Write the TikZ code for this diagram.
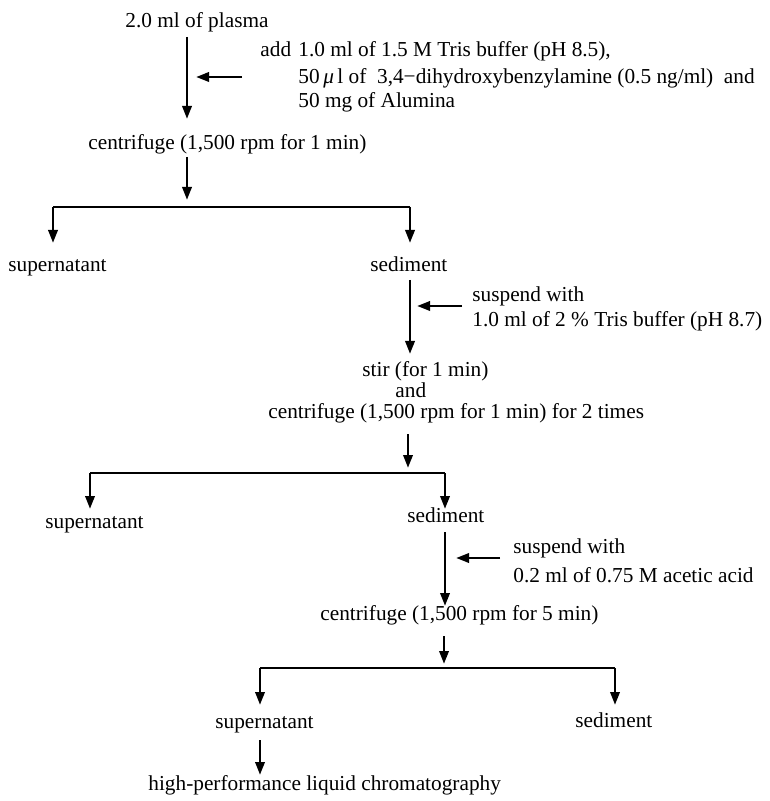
\documentclass[tikz,border=0pt]{standalone}
\usepackage{fontspec}
\setmainfont{Liberation Serif}
\usepackage{tikz}
\usetikzlibrary{arrows.meta}

\tikzset{
  txt/.style={anchor=base west, inner sep=0pt, font=\fontsize{10.65}{12.5}\selectfont},
  arr/.style={-{Triangle[length=6.5pt,width=4.6pt]}, line width=1.4pt},
  bar/.style={line width=1.4pt}
}

\begin{document}
\begin{tikzpicture}[x=0.5pt,y=-0.5pt]
\useasboundingbox (0,0) rectangle (769,801);

% first step
\node[txt] (plasma) at (125,28) {2.0 ml of plasma};
\node[txt] (add) at (260,57) {add};
\node[txt] (add1) at (298,57) {1.0 ml of 1.5 M Tris buffer (pH 8.5),};
\node[txt] (add2) at (298,84) {50\,\textit{μ}\,l of \ 3,4−dihydroxybenzylamine (0.5 ng/ml) \ and};
\node[txt] (add3) at (298,108) {50 mg of Alumina};
\node[txt] (cent1) at (88,150) {centrifuge (1,500 rpm for 1 min)};
\node[txt] (sup1) at (8,272) {supernatant};
\node[txt] (sed1) at (370,272) {sediment};

\coordinate (a1) at (187,37);  \coordinate (a2) at (187,119);
\coordinate (s1) at (242,77);  \coordinate (s2) at (196,77);
\coordinate (a3) at (187,157); \coordinate (a4) at (187,200);
\coordinate (b1) at (53,207);  \coordinate (b2) at (410,207);
\coordinate (t1) at (53,243);  \coordinate (t2) at (410,243);
\draw[arr] (a1) -- (a2);
\draw[arr] (s1) -- (s2);
\draw[arr] (a3) -- (a4);
\draw[bar] (b1) -- (b2);
\draw[arr] (b1) -- (t1);
\draw[arr] (b2) -- (t2);

% second step
\node[txt] (susp1) at (472,302) {suspend with};
\node[txt] (buf) at (472,327) {1.0 ml of 2 \% Tris buffer (pH 8.7)};
\node[txt] (stir) at (362,376) {stir (for 1 min)};
\node[txt] (and) at (395,397) {and};
\node[txt] (cent2) at (268,418) {centrifuge (1,500 rpm for 1 min) for 2 times};
\node[txt] (sup2) at (45,528) {supernatant};
\node[txt] (sed2) at (407,522) {sediment};

\coordinate (c1) at (410,280); \coordinate (c2) at (410,354);
\coordinate (u1) at (462,306); \coordinate (u2) at (417,306);
\coordinate (c3) at (408,434); \coordinate (c4) at (408,468);
\coordinate (d1) at (90,473);  \coordinate (d2) at (445,473);
\coordinate (e1) at (90,509);  \coordinate (e2) at (445,509);
\draw[arr] (c1) -- (c2);
\draw[arr] (u1) -- (u2);
\draw[arr] (c3) -- (c4);
\draw[bar] (d1) -- (d2);
\draw[arr] (d1) -- (e1);
\draw[arr] (d2) -- (e2);

% third step
\node[txt] (susp2) at (513,553) {suspend with};
\node[txt] (acid) at (513,582) {0.2 ml of 0.75 M acetic acid};
\node[txt] (cent3) at (320,620) {centrifuge (1,500 rpm for 5 min)};
\node[txt] (sup3) at (215,728) {supernatant};
\node[txt] (sed3) at (575,727) {sediment};
\node[txt] (hplc) at (148,790) {high-performance liquid chromatography};

\coordinate (f1) at (445,532); \coordinate (f2) at (445,606);
\coordinate (v1) at (500,558); \coordinate (v2) at (456,558);
\coordinate (f3) at (444,636); \coordinate (f4) at (444,664);
\coordinate (g1) at (260,668); \coordinate (g2) at (615,668);
\coordinate (h1) at (260,705); \coordinate (h2) at (615,705);
\coordinate (k1) at (260,740); \coordinate (k2) at (260,775);
\draw[arr] (f1) -- (f2);
\draw[arr] (v1) -- (v2);
\draw[arr] (f3) -- (f4);
\draw[bar] (g1) -- (g2);
\draw[arr] (g1) -- (h1);
\draw[arr] (g2) -- (h2);
\draw[arr] (k1) -- (k2);
\end{tikzpicture}
\end{document}
